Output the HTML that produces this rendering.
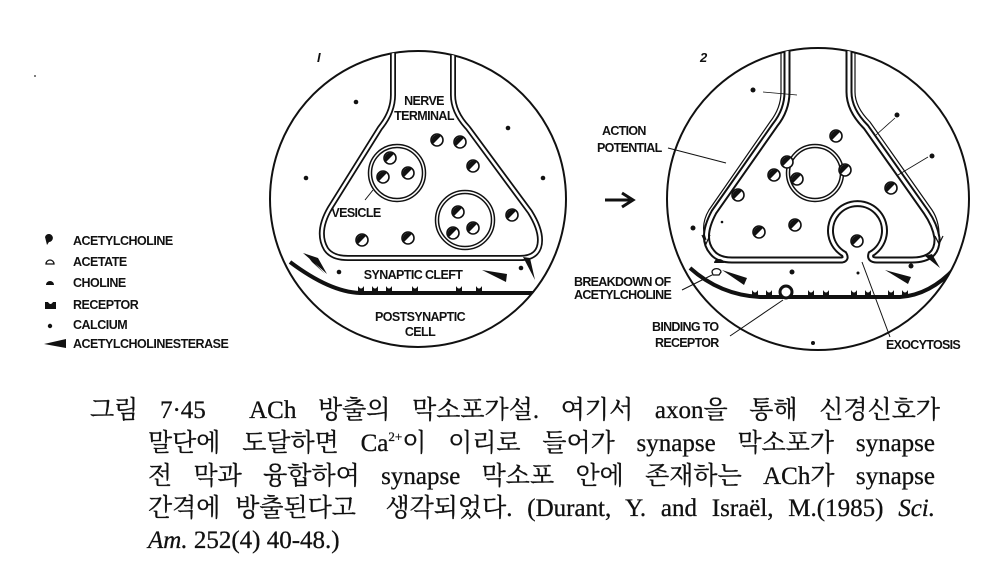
<!DOCTYPE html>
<html><head><meta charset="utf-8"><style>
html,body{margin:0;padding:0;background:#fff}
body{width:1008px;height:580px;position:relative;overflow:hidden}
.cap{position:absolute;font-family:"Liberation Serif","Noto Serif CJK SC","Noto Sans CJK KR",serif;font-size:25px;line-height:30px;height:30px;color:#111;white-space:nowrap;-webkit-text-stroke:0.3px #111}
.j{text-align:justify;text-align-last:justify;white-space:normal}
.sp{font-size:13px;position:relative;top:-10px;line-height:0}
svg text{font-family:"Liberation Sans",sans-serif;font-weight:bold;fill:#111}
</style></head><body>
<svg width="1008" height="400" style="position:absolute;left:0;top:0">
<defs>
<clipPath id="c1"><circle cx="418" cy="199" r="148"/></clipPath>
<clipPath id="c2"><circle cx="818" cy="199" r="151"/></clipPath>
<g id="ach"><circle r="6" fill="#fff" stroke="#111" stroke-width="1.6"/><path d="M-4.2,4.2 A6,6 0 0 1 4.2,-4.2 Z" fill="#111"/></g>
</defs>
<circle cx="35" cy="76" r="1" fill="#555"/>
<g font-size="12.5" letter-spacing="-0.5">
<path d="M45,237 a4,4 0 1 1 4,5 l-2,3" fill="#111"/><text x="73" y="245">ACETYLCHOLINE</text>
<path d="M46,264 a4,4 0 0 1 8,0 z" fill="#fff" stroke="#111" stroke-width="1.3"/><text x="73" y="266">ACETATE</text>
<path d="M46,285 a4,4 0 0 1 8,0 z" fill="#111"/><text x="73" y="287">CHOLINE</text>
<path d="M45,302 l0,7 l11,0 l0,-7 l-3,0 q-2.5,4 -5,0 z" fill="#111"/><text x="73" y="309">RECEPTOR</text>
<circle cx="50" cy="326" r="2.2" fill="#111"/><text x="73" y="329">CALCIUM</text>
<path d="M44,344 L66,339 L66,348 Z" fill="#111"/><text x="73" y="348">ACETYLCHOLINESTERASE</text>
</g>
<text x="317" y="62" font-size="13" font-style="italic" font-weight="normal">I</text>
<circle cx="418" cy="199" r="148" fill="none" stroke="#111" stroke-width="2"/>
<g clip-path="url(#c1)">
<path d="M393,40 L393,95 Q393,112 380,128 L330,208 Q316,232 326,249 Q332,258 348,258 L520,258 Q540,258 540,240 Q540,228 530,212 L468,128 Q453,112 453,95 L453,40" fill="none" stroke="#111" stroke-width="6"/>
<path d="M393,40 L393,95 Q393,112 380,128 L330,208 Q316,232 326,249 Q332,258 348,258 L520,258 Q540,258 540,240 Q540,228 530,212 L468,128 Q453,112 453,95 L453,40" fill="none" stroke="#fff" stroke-width="2.5"/>
<path d="M523,257 L535,280 L530,258 Z" fill="#111"/>
<path d="M290,262 Q330,292 360,293 L540,293 Q565,290 580,262" fill="none" stroke="#111" stroke-width="4"/>
<g fill="#111">
<path d="M358,292 l0,-6 q3,5 6,0 l0,6z M372,292 l0,-6 q3,5 6,0 l0,6z M386,292 l0,-6 q3,5 6,0 l0,6z M412,292 l0,-6 q3,5 6,0 l0,6z M456,292 l0,-6 q3,5 6,0 l0,6z M476,292 l0,-6 q3,5 6,0 l0,6z"/>
<circle cx="356" cy="102" r="2.3"/><circle cx="508" cy="128" r="2.3"/><circle cx="306" cy="178" r="2.3"/><circle cx="543" cy="178" r="2.3"/><circle cx="339" cy="272" r="2.3"/><circle cx="521" cy="268" r="2.3"/>
<path d="M305,253 L325,274 L312,262 Z M303,253 L318,258 L327,274 Z"/>
<path d="M482,270 L507,274 L506,282 Z"/>
</g>
</g>
<circle cx="397" cy="173" r="27" fill="none" stroke="#111" stroke-width="4.5"/><circle cx="397" cy="173" r="27" fill="none" stroke="#fff" stroke-width="1.5"/>
<circle cx="465" cy="220" r="28" fill="none" stroke="#111" stroke-width="4.5"/><circle cx="465" cy="220" r="28" fill="none" stroke="#fff" stroke-width="1.5"/>
<line x1="373" y1="190" x2="365" y2="200" stroke="#111"/>
<use href="#ach" x="437" y="140"/><use href="#ach" x="460" y="142"/><use href="#ach" x="473" y="166"/>
<use href="#ach" x="390" y="158"/><use href="#ach" x="383" y="177"/><use href="#ach" x="408" y="173"/>
<use href="#ach" x="512" y="215"/><use href="#ach" x="458" y="212"/><use href="#ach" x="453" y="233"/><use href="#ach" x="473" y="228"/>
<use href="#ach" x="362" y="240"/><use href="#ach" x="408" y="238"/>
<g font-size="12.5" letter-spacing="-0.6" text-anchor="middle">
<text x="424" y="105">NERVE</text><text x="424" y="120">TERMINAL</text>
<text x="356" y="217">VESICLE</text>
<text x="413" y="279">SYNAPTIC CLEFT</text>
<text x="420" y="321">POSTSYNAPTIC</text><text x="420" y="336">CELL</text>
</g>
<path d="M605,200 L630,200 M622,193 L633,200 L622,207" fill="none" stroke="#111" stroke-width="3"/>
<text x="700" y="62" font-size="13" font-style="italic" font-weight="bold">2</text>
<circle cx="818" cy="199" r="151" fill="none" stroke="#111" stroke-width="2"/>
<g clip-path="url(#c2)">
<path d="M787,40 L787,92 Q787,110 775,125 L714,212 Q700,238 712,252 Q718,260 732,260 L842,260 Q847,259 844,254 A27,27 0 1 1 871,254 Q869,260 877,260 L912,260 Q938,260 937,238 Q935,225 926,212 L866,127 Q849,110 849,92 L849,40" fill="none" stroke="#111" stroke-width="7"/>
<path d="M787,40 L787,92 Q787,110 775,125 L714,212 Q700,238 712,252 Q718,260 732,260 L842,260 Q847,259 844,254 A27,27 0 1 1 871,254 Q869,260 877,260 L912,260 Q938,260 937,238 Q935,225 926,212 L866,127 Q849,110 849,92 L849,40" fill="none" stroke="#fff" stroke-width="3"/>
<path d="M781,40 L781,92 Q781,108 770,122 L709,210 Q700,225 706,240" fill="none" stroke="#111" stroke-width="1.2"/>
<path d="M855,40 L855,92 Q855,107 870,122 L932,210 Q940,222 939,240" fill="none" stroke="#111" stroke-width="1.2"/>
<path d="M702,235 L706,244 L710,235 M935,236 L939,244 L943,236" fill="none" stroke="#111" stroke-width="1.2"/>
<path d="M925,256 L940,268 L932,254 Z" fill="#111"/>
<path d="M690,268 Q720,295 760,297 L900,297 Q930,295 955,268" fill="none" stroke="#111" stroke-width="4"/>
<g fill="#111">
<path d="M752,296 l0,-6 q3,5 6,0 l0,6z M766,296 l0,-6 q3,5 6,0 l0,6z M808,296 l0,-6 q3,5 6,0 l0,6z M823,296 l0,-6 q3,5 6,0 l0,6z M851,296 l0,-6 q3,5 6,0 l0,6z M865,296 l0,-6 q3,5 6,0 l0,6z M888,296 l0,-6 q3,5 6,0 l0,6z M902,296 l0,-6 q3,5 6,0 l0,6z"/>
<circle cx="786" cy="292" r="6" fill="#fff" stroke="#111" stroke-width="3"/>
<circle cx="753" cy="90" r="2.5"/><circle cx="897" cy="115" r="2.5"/><circle cx="932" cy="156" r="2.5"/><circle cx="693" cy="228" r="2.5"/><circle cx="792" cy="272" r="2.5"/><circle cx="911" cy="266" r="2.5"/><circle cx="858" cy="273" r="1.5"/><circle cx="722" cy="222" r="1.3"/><circle cx="813" cy="343" r="2"/>
<path d="M714,263 a5,4 0 0 1 10,0 z"/>
<path d="M722,270 L747,278 L744,285 Z"/>
<path d="M885,270 L911,277 L908,284 Z"/>
</g>
<path d="M712,272 a4,3 0 0 1 9,0 l-2,3 l-6,0z" fill="#fff" stroke="#111" stroke-width="1.3"/>
<path d="M763,92 L797,95 M876,135 L895,118 M898,175 L928,157" stroke="#111" stroke-width="0.8" fill="none"/>
</g>
<circle cx="815" cy="173" r="27" fill="none" stroke="#111" stroke-width="4.5"/><circle cx="815" cy="173" r="27" fill="none" stroke="#fff" stroke-width="1.5"/>
<use href="#ach" x="787" y="162"/><use href="#ach" x="774" y="175"/><use href="#ach" x="797" y="179"/>
<use href="#ach" x="836" y="136"/><use href="#ach" x="845" y="170"/><use href="#ach" x="891" y="188"/>
<use href="#ach" x="738" y="195"/><use href="#ach" x="759" y="232"/><use href="#ach" x="795" y="225"/><use href="#ach" x="857" y="241"/>
<g stroke="#111" stroke-width="1" fill="none">
<line x1="668" y1="148" x2="726" y2="163"/>
<line x1="682" y1="290" x2="712" y2="275"/>
<line x1="730" y1="336" x2="783" y2="300"/>
<line x1="890" y1="337" x2="862" y2="262"/>
</g>
<g font-size="12.5" letter-spacing="-0.7">
<text x="602" y="135">ACTION</text><text x="597" y="152">POTENTIAL</text>
<text x="574" y="286">BREAKDOWN OF</text><text x="574" y="299">ACETYLCHOLINE</text>
<text x="652" y="331">BINDING TO</text><text x="655" y="347">RECEPTOR</text>
<text x="886" y="349">EXOCYTOSIS</text>
</g>
</svg>
<div class="cap j" style="left:90px;top:396px;width:850px">그림 7·45 &nbsp;ACh 방출의 막소포가설. 여기서 axon을 통해 신경신호가</div>
<div class="cap j" style="left:148px;top:429px;width:787px">말단에 도달하면 Ca<span class="sp">2+</span>이 이리로 들어가 synapse 막소포가 synapse</div>
<div class="cap j" style="left:148px;top:462px;width:787px">전 막과 융합하여 synapse 막소포 안에 존재하는 ACh가 synapse</div>
<div class="cap j" style="left:148px;top:494px;width:787px">간격에 방출된다고 &nbsp;생각되었다. (Durant, Y. and Israël, M.(1985) <i>Sci.</i></div>
<div class="cap" style="left:148px;top:526px"><i>Am.</i> 252(4) 40-48.)</div>
</body></html>
